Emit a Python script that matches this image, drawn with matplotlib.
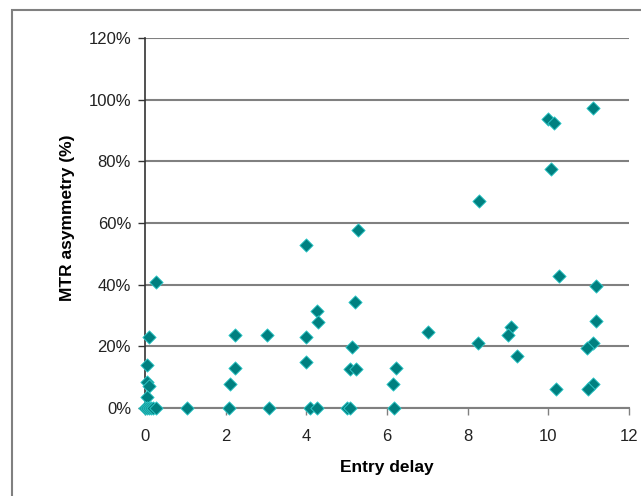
import matplotlib
matplotlib.use("Agg")
import matplotlib.pyplot as plt
from matplotlib.ticker import FuncFormatter
from matplotlib.patches import Rectangle

plt.rcParams['font.family'] = ['Liberation Sans', 'DejaVu Sans']

entry_delay = [0.1, 0.27, 0.05, 0.05, 0.1, 0.05, 0.0, 0.05, 0.1, 0.15, 0.2, 0.27,
               1.04, 2.23, 2.23, 2.1, 2.08, 3.02, 3.07, 4.0, 4.0, 4.26, 4.29, 4.09,
               4.26, 3.99, 5.28, 8.28, 5.21, 7.02, 8.26, 5.13, 5.08, 5.23, 6.22, 6.15,
               5.01, 5.08, 6.17, 11.11, 9.99, 10.14, 10.07, 10.27, 11.18, 11.18, 9.08,
               9.0, 11.11, 10.96, 9.22, 10.19, 11.11, 10.98]
mtr_asym = [23, 41, 14, 8.5, 7, 3.5, 0, 0, 0, 0, 0, 0,
            0, 23.7, 13, 7.8, 0, 23.7, 0, 23, 15, 31.5, 28, 0,
            0, 53, 57.7, 67, 34.4, 24.6, 21, 19.8, 12.7, 12.7, 13, 7.8,
            0, 0, 0, 97.3, 93.7, 92.4, 77.5, 42.8, 39.6, 28.2, 26.3,
            23.7, 21, 19.5, 16.9, 6.2, 7.8, 6.2]
x_ticks = [0, 2, 4, 6, 8, 10, 12]
y_ticks = [0, 20, 40, 60, 80, 100, 120]

W, H = 641, 496
fig = plt.figure(figsize=(W/100, H/100), dpi=100)
fig.patches.append(Rectangle((12/W, -0.1), 1.2, 1 - 10/H + 0.1, transform=fig.transFigure,
                             fill=False, edgecolor='#808080', linewidth=1.5))

ax = fig.add_axes([145/W, 1 - 408/H, (629-145)/W, (408-38)/H])
ax.scatter(entry_delay, mtr_asym, marker='D', s=46, facecolor='#008080',
           edgecolor='#33cccc', linewidths=0.6, zorder=3, clip_on=False)

ax.set_xlim(0, 12)
ax.set_ylim(0, 120)
ax.set_xticks(x_ticks)
ax.set_yticks(y_ticks)
ax.yaxis.set_major_formatter(FuncFormatter(lambda v, p: f"{int(v)}%"))
ax.grid(axis='y', color='#808080', linewidth=1.5, zorder=0)
ax.set_axisbelow(True)
for s in ['top', 'right']:
    ax.spines[s].set_visible(False)
ax.spines['left'].set_color('#333333')
ax.spines['bottom'].set_color('#808080')
ax.spines['left'].set_linewidth(1.2)
ax.spines['bottom'].set_linewidth(1.5)
ax.tick_params(axis='y', direction='out', length=5, width=1, color='#333333',
               labelsize=12, pad=5, labelcolor='#222222')
ax.tick_params(axis='x', direction='out', length=5, width=1, color='#808080',
               labelsize=12, pad=10, labelcolor='#222222')
ax.set_xlabel('Entry delay', fontsize=12.5, fontweight='bold')
ax.set_ylabel('MTR asymmetry (%)', fontsize=12.5, fontweight='bold')
ax.xaxis.set_label_coords(0.499, -0.1405)
ax.yaxis.set_label_coords(-0.145, 0.515)

fig.savefig('out.png', dpi=100)
